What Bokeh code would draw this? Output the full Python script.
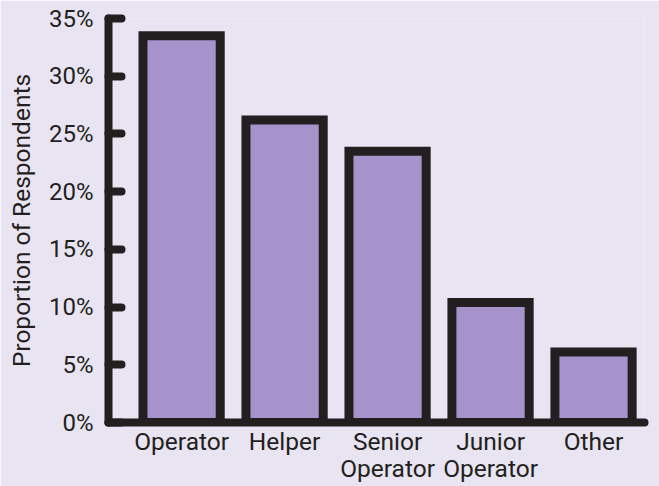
from bokeh.plotting import figure
from bokeh.models import ColumnDataSource, FixedTicker, Range1d
from bokeh.embed import file_html
from bokeh.resources import INLINE

categories = ["Operator", "Helper", "Senior\nOperator", "Junior\nOperator", "Other"]
values = [33.5, 26.2, 23.5, 10.4, 6.1]
y_ticks = [0, 5, 10, 15, 20, 25, 30, 35]
y_tick_labels = ["0%", "5%", "10%", "15%", "20%", "25%", "30%", "35%"]

BG = "#e8e4f1"
INK = "#231f20"
BAR = "#a693cb"
FONT = "Roboto"

xs = list(range(len(categories)))
src = ColumnDataSource(dict(x=xs, top=values))

p = figure(width=659, height=486, output_backend="svg", toolbar_location=None,
           x_range=Range1d(-0.71, 4.495), y_range=Range1d(0, 35),
           background_fill_color=BG, border_fill_color=BG,
           min_border_left=108, min_border_right=15, min_border_top=18, min_border_bottom=64)
p.outline_line_color = None
p.grid.grid_line_color = None

p.vbar(x="x", top="top", width=0.75, bottom=0, source=src,
       fill_color=BAR, line_color=INK, line_width=9, line_join="miter")

# y axis
ya = p.yaxis[0]
ya.ticker = FixedTicker(ticks=y_ticks)
ya.major_label_overrides = {t: l for t, l in zip(y_ticks, y_tick_labels)}
ya.axis_line_width = 8
ya.axis_line_color = INK
ya.axis_line_cap = "round"
ya.major_tick_in = 13
ya.major_tick_out = 0
ya.major_tick_line_width = 8
ya.major_tick_line_color = INK
ya.major_tick_line_cap = "round"
ya.minor_tick_line_color = None
ya.major_label_standoff = 15
ya.major_label_text_font = FONT
ya.major_label_text_font_size = "24px"
ya.major_label_text_color = INK
ya.axis_label = "Proportion of Respondents"
ya.axis_label_text_font = FONT
ya.axis_label_text_font_size = "24.5px"
ya.axis_label_text_font_style = "normal"
ya.axis_label_text_color = INK
ya.axis_label_standoff = 10

# x axis
xa = p.xaxis[0]
xa.ticker = FixedTicker(ticks=xs)
xa.major_label_overrides = {i: c for i, c in zip(xs, categories)}
xa.axis_line_width = 8
xa.axis_line_color = INK
xa.axis_line_cap = "round"
xa.major_tick_line_color = None
xa.major_tick_in = 0
xa.major_tick_out = 0
xa.minor_tick_line_color = None
xa.major_label_standoff = 4
xa.major_label_text_font = FONT
xa.major_label_text_font_size = "24.5px"
xa.major_label_text_color = INK
xa.major_label_text_line_height = 0.95

html = file_html(p, INLINE)
html = html.replace("<body>", '<body style="background:%s">' % BG, 1)
open("out.html", "w").write(html)
